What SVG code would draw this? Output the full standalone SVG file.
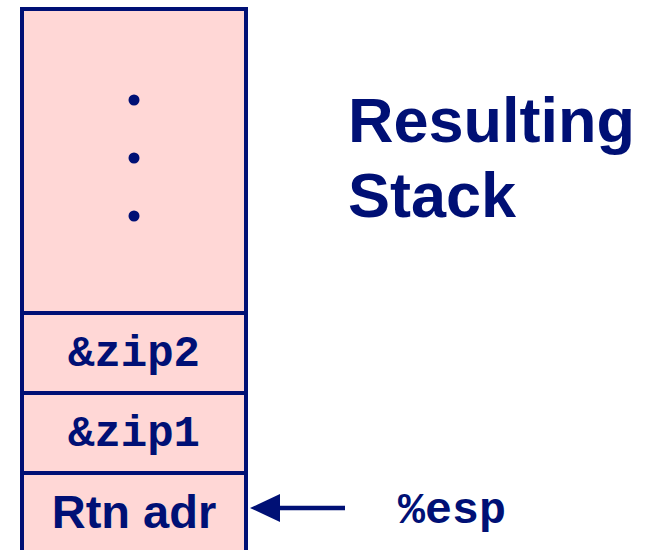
<svg xmlns="http://www.w3.org/2000/svg" width="654" height="550" viewBox="0 0 654 550">
<style>
.cell{fill:#FFD7D6;stroke:#001075;stroke-width:4}
.dot{fill:#001075}
.mono{font-family:"Courier New","Liberation Mono",monospace;font-weight:bold;fill:#001075;text-anchor:middle}
.sans{font-family:"Liberation Sans",Arial,sans-serif;font-weight:bold;fill:#001075}
</style>
<rect width="654" height="550" fill="#fff"/>
<g id="stack-top">
<rect class="cell" x="22" y="9" width="224" height="304"/>
<circle class="dot" cx="134" cy="100" r="5.5"/>
<circle class="dot" cx="134" cy="158" r="5.5"/>
<circle class="dot" cx="134" cy="216" r="5.5"/>
</g>
<g id="zip2">
<rect class="cell" x="22" y="313" width="224" height="80"/>
<text class="mono" x="134" y="366" font-size="44">&amp;zip2</text>
</g>
<g id="zip1">
<rect class="cell" x="22" y="393" width="224" height="80"/>
<text class="mono" x="134" y="446" font-size="44">&amp;zip1</text>
</g>
<g id="rtn">
<rect class="cell" x="22" y="473" width="224" height="90"/>
<text class="sans" x="134" y="528" font-size="47" text-anchor="middle">Rtn adr</text>
</g>
<g id="title">
<text class="sans" x="348" y="142" font-size="63">Resulting</text>
<text class="sans" x="348" y="217" font-size="63">Stack</text>
</g>
<g id="esp">
<text class="mono" x="452" y="523" font-size="45">%esp</text>
</g>
<g id="connectors">
<line x1="345" y1="508" x2="279" y2="508" stroke="#001075" stroke-width="4.5"/>
<path d="M250,508 L280,494 L280,522 Z" fill="#001075"/>
</g>
</svg>
